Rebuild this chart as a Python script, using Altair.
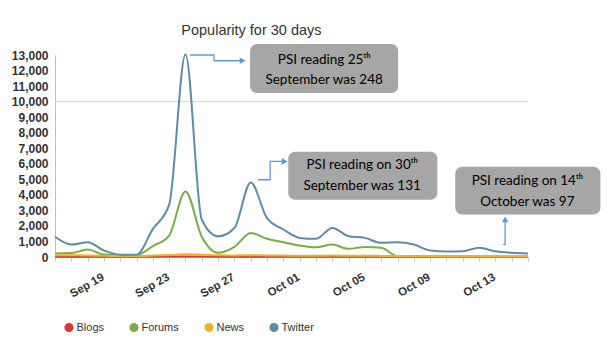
import altair as alt
import pandas as pd

dates = pd.date_range("2014-09-16", "2014-10-15", freq="D")
twitter = [1300, 800, 950, 420, 150, 150, 1800, 3370, 13050, 2400, 1330, 1870, 4800, 2500, 1770,
           1230, 1170, 1870, 1340, 1230, 910, 950, 800, 420, 350, 370, 590, 370, 270, 225]
forums = [225, 250, 480, 160, 120, 120, 700, 1380, 4220, 1300, 270, 650, 1550, 1170, 950,
          740, 620, 800, 525, 650, 590, 50, 30, 30, 25, 25, 25, 25, 20, 20]
news = [120, 110, 100, 80, 60, 60, 90, 130, 180, 150, 110, 100, 120, 100, 90,
        80, 80, 90, 80, 80, 70, 60, 60, 60, 50, 50, 50, 50, 50, 50]
blogs = [20, 20, 20, 15, 15, 15, 20, 25, 30, 25, 20, 20, 20, 20, 20,
         15, 15, 15, 15, 15, 15, 15, 15, 15, 15, 15, 15, 15, 15, 15]
series = ["Blogs", "Forums", "News", "Twitter"]
colors = ["#d63a34", "#7aab48", "#f0b128", "#5f8ba5"]
label_dates = ["Sep 19", "Sep 23", "Sep 27", "Oct 01", "Oct 05", "Oct 09", "Oct 13"]

rows = []
for name, vals in zip(series, [blogs, forums, news, twitter]):
    for d, v in zip(dates, vals):
        rows.append({"date": d, "series": name, "value": v})
df = pd.DataFrame(rows)

start = dates[0]
def at(days):
    return start + pd.to_timedelta(days, unit="D")

# annotation boxes (day offset from Sep 16, value units)
box_x0 = [11.96, 14.30, 24.54]
box_x1 = [21.04, 23.44, 33.44]
box_y0 = [13700, 6770, 5810]
box_y1 = [10560, 3690, 2730]
txt_x = [16.50, 18.83, 28.96]
txt_l1 = ["PSI reading 25ᵗʰ", "PSI reading on 30ᵗʰ", "PSI reading on 14ᵗʰ"]
txt_l2 = ["September was 248", "September was 131", "October was 97"]
txt_y1 = [12680, 5940, 4910]
txt_y2 = [11400, 4590, 3560]

boxes = pd.DataFrame({"x": [at(v) for v in box_x0], "x2": [at(v) for v in box_x1],
                      "y": box_y0, "y2": box_y1})
texts = pd.DataFrame({"x": [at(v) for v in txt_x] * 2, "y": txt_y1 + txt_y2,
                      "t": txt_l1 + txt_l2})

# arrows: connector paths
arr_id = [1, 1, 1, 1, 2, 2, 2, 2, 3, 3, 3]
arr_ord = [0, 1, 2, 3, 0, 1, 2, 3, 0, 1, 2]
arr_x = [8.28, 9.75, 9.75, 11.35, 12.45, 13.19, 13.19, 13.93, 27.48, 27.60, 27.60]
arr_y = [13000, 13000, 12630, 12630, 4970, 4970, 6150, 6150, 800, 800, 2280]
arrows = pd.DataFrame({"id": arr_id, "o": arr_ord, "x": [at(v) for v in arr_x], "y": arr_y})
head_x = [11.50, 14.08, 27.60]
head_y = [12630, 6150, 2420]
head_shape = ["triangle-right", "triangle-right", "triangle-up"]
heads = pd.DataFrame({"x": [at(v) for v in head_x], "y": head_y, "shape": head_shape})

grid_vals = pd.DataFrame({"v": [10000]})

xdom = [start.isoformat(), dates[-1].isoformat()]
xscale = alt.Scale(domain=xdom)
yscale = alt.Scale(domain=[0, 13000], nice=False)

label_list = ",".join("'" + s + "'" for s in label_dates)
xaxis = alt.Axis(
    values=[d.isoformat() for d in dates],
    labelExpr=f"indexof([{label_list}], timeFormat(datum.value, '%b %d')) >= 0 ? timeFormat(datum.value, '%b %d') : ''",
    labelAngle=-30, labelFontWeight="bold", labelFontSize=11.5, labelColor="#333333",
    tickColor="#c8c8c8", tickSize=4, domainColor="#c0c0c0",
    grid=False, title=None, labelPadding=10, labelOverlap=False, labelOffset=-4,
)
yaxis = alt.Axis(
    values=list(range(0, 13001, 1000)), labelExpr="format(datum.value, ',')",
    labelFontWeight="bold", labelFontSize=12,
    labelColor="#333333", ticks=False, labelPadding=7,
    domainColor="#c0c0c0", grid=False, title=None,
)

def X(field):
    return alt.X(field, scale=xscale, axis=xaxis, title=None)

def Y(field):
    return alt.Y(field, scale=yscale, axis=yaxis, title=None)

grid = alt.Chart(grid_vals).mark_rule(color="#dcdcdc", strokeWidth=1.5).encode(y=Y("v:Q"))

lines = alt.Chart(df).mark_line(interpolate="monotone", strokeWidth=2).encode(
    x=X("date:T"),
    y=Y("value:Q"),
    color=alt.Color("series:N", scale=alt.Scale(domain=series, range=colors),
                    legend=alt.Legend(orient="none", legendX=8.5, legendY=267, direction="horizontal",
                                      title=None, symbolType="circle", symbolSize=22,
                                      symbolStrokeWidth=4.5, columnPadding=18, labelOffset=2,
                                      gridAlign="none")),
    order=alt.Order("series:N"),
)

rects = alt.Chart(boxes).mark_rect(fill="#a6a6a6", cornerRadius=7).encode(
    x=X("x:T"), x2="x2:T", y=Y("y:Q"), y2="y2:Q",
)
labels = alt.Chart(texts).mark_text(font="Lato", fontSize=13.5, color="#000000",
                                     baseline="middle", align="center").encode(
    x=X("x:T"), y=Y("y:Q"), text="t:N",
)
arrow_lines = alt.Chart(arrows).mark_line(color="#5b9bd5", strokeWidth=1.3).encode(
    x=X("x:T"), y=Y("y:Q"), detail="id:N", order="o:Q",
)
arrow_heads = alt.Chart(heads).mark_point(filled=True, color="#5b9bd5", size=45, opacity=1).encode(
    x=X("x:T"), y=Y("y:Q"), shape=alt.Shape("shape:N", scale=None),
)

chart = alt.layer(grid, lines, rects, labels, arrow_lines, arrow_heads).properties(
    width=473, height=202,
    title=alt.TitleParams("Popularity for 30 days", anchor="start", dx=170, fontSize=14.5,
                          fontWeight="normal", font="Liberation Sans", color="#333333", offset=6),
    autosize=alt.AutoSizeParams(type="none"),
    padding={"left": 55, "top": 55, "right": 87, "bottom": 84},
).configure_view(stroke=None).configure_axis(
    labelFont="Liberation Sans"
).configure_legend(
    labelFont="Liberation Sans", labelFontSize=11, labelColor="#333333"
).resolve_scale(color="independent")

chart.save("out.html", embed_options={"renderer": "svg", "actions": False})
